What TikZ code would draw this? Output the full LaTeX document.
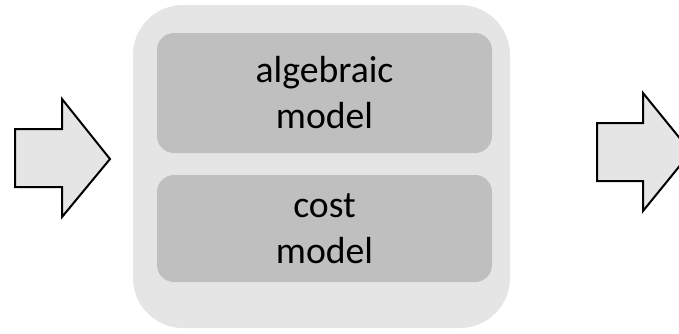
\documentclass[tikz,border=0pt]{standalone}
\usepackage{fontspec}
\setmainfont{Carlito}
\begin{document}
\begin{tikzpicture}[x=1pt,y=-1pt,
  outerbox/.style={fill=gray!20, draw=none, rounded corners=50pt},
  innerbox/.style={fill=black!25, draw=none, rounded corners=17pt},
  label/.style={font=\fontsize{37.7}{46}\selectfont, align=center, inner sep=0pt},
  blockarrow/.style={fill=gray!20, draw=black, line width=2pt, line join=miter}]
\useasboundingbox (0,0) rectangle (679,333);
% container
\path[outerbox] (133,5) rectangle (510,328);
\coordinate (container) at (321.5,166.5);
% the two model blocks
\path[innerbox] (157,33) rectangle (492,153);
\path[innerbox] (157,175) rectangle (492,282);
\node[label] (alg) at (324.5,93) {algebraic\\model};
\node[label] (cost) at (324.5,229) {cost\\model};
% input arrow
\draw[blockarrow] (15,129) -- (62,129) -- (62,99) -- (110,159) -- (62,217)
  -- (62,187) -- (15,187) -- cycle;
% output arrow
\draw[blockarrow] (597,123) -- (643,123) -- (643,93) -- (691,152) -- (643,211)
  -- (643,181) -- (597,181) -- cycle;
\end{tikzpicture}
\end{document}
